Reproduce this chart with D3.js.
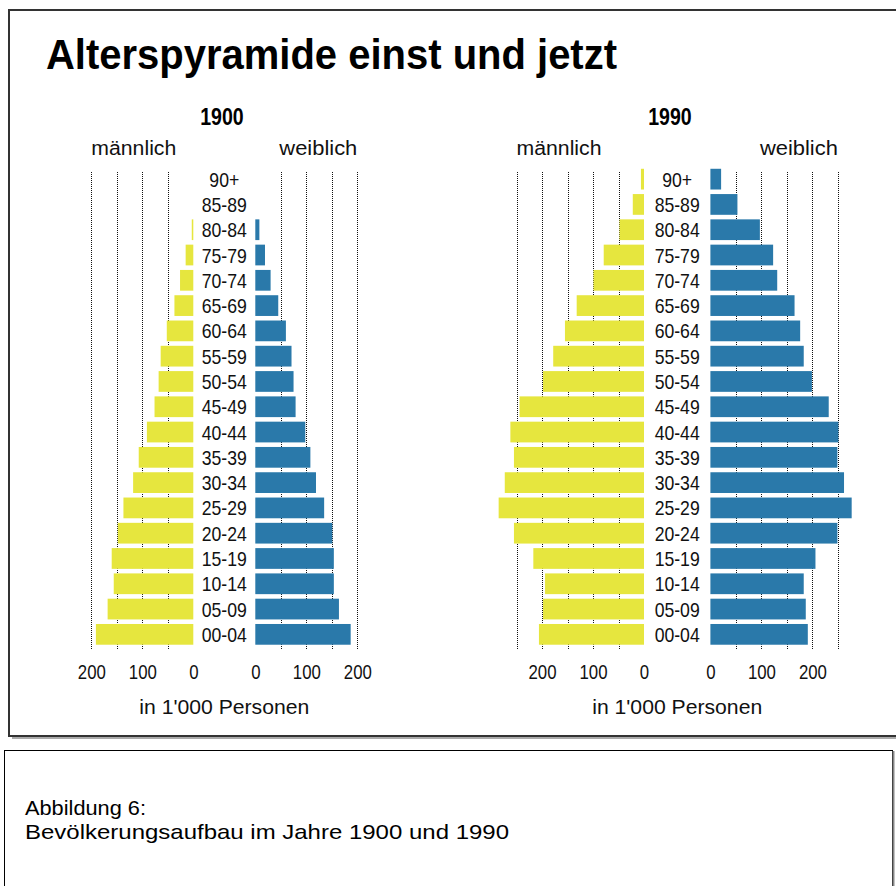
<!DOCTYPE html>
<html lang="de">
<head>
  <meta charset="UTF-8">
  <title>Alterspyramide einst und jetzt</title>
  <script src="https://d3js.org/d3.v7.min.js"></script>
  <style>
    body { margin: 0; background: white; }
    svg { display: block; }
    .word { font-family: "Liberation Sans", Arial, sans-serif; font-size: 20px; fill: #111; }
    .num { font-family: "Liberation Sans", Arial, sans-serif; font-size: 21px; fill: #111; }
    .grid { stroke: #111; stroke-width: 1px; stroke-dasharray: 1,1; }
  </style>
</head>
<body>
<svg id="chart"></svg>
<script>
// age groups, top to bottom
const ages = ["90+","85-89","80-84","75-79","70-74","65-69","60-64","55-59","50-54",
              "45-49","40-44","35-39","30-34","25-29","20-24","15-19","10-14","05-09","00-04"];

// values in 1'000 persons
const male1900   = [0,0,3,15,26,37,52,64,68,76,91,107,118,137,148,160,156,168,191];
const female1900 = [0,0,8,19,30,45,60,71,75,79,98,108,119,135,151,154,154,164,187];
const male1990   = [6,22,48,79,99,132,155,178,198,244,262,255,273,285,255,217,194,198,206];
const female1990 = [21,53,97,123,131,165,176,183,199,232,251,249,262,277,249,206,183,187,191];

const ticks1900 = [0,100,200];
const grid1900 = [50,100,150,200];
const ticks1990 = [0,100,200];
const grid1990 = [50,100,150,200,250];

const W = 896, H = 886;
const svg = d3.select("#chart").attr("width", W).attr("height", H);

// squeeze text horizontally (the original uses a condensed face)
function condense(sel, f) {
  sel.each(function() {
    const w = this.getComputedTextLength();
    d3.select(this).attr("textLength", w * f).attr("lengthAdjust", "spacingAndGlyphs");
  });
}

// outer frame with shadow
svg.append("rect").attr("x", 12).attr("y", 13).attr("width", 900).attr("height", 726).attr("fill", "#aaa");
svg.append("rect").attr("x", 9).attr("y", 10).attr("width", 900).attr("height", 726)
  .attr("fill", "white").attr("stroke", "#333").attr("stroke-width", 2);

// title
svg.append("text")
  .attr("x", 46).attr("y", 69)
  .attr("textLength", 571).attr("lengthAdjust", "spacingAndGlyphs")
  .style("font-family", "'Liberation Sans', sans-serif")
  .style("font-weight", "bold").style("font-size", "43px").attr("fill", "#000")
  .text("Alterspyramide einst und jetzt");

// shared vertical band scale
const y = d3.scaleBand().domain(ages).range([166.5, 647]).paddingInner(0.18).paddingOuter(0.09);

function pyramid(year, cx, gap, maxV, yearX, males, females, tickVals, gridVals) {
  const k = 0.51; // px per 1'000
  const xm = d3.scaleLinear().domain([0, maxV]).range([cx - gap, cx - gap - maxV * k]);
  const xf = d3.scaleLinear().domain([0, maxV]).range([cx + gap, cx + gap + maxV * k]);
  const g = svg.append("g");

  // dotted gridlines behind bars
  g.selectAll(".gm").data(gridVals).join("line")
    .attr("class", "grid")
    .attr("x1", d => Math.round(xm(d)) + 0.5).attr("x2", d => Math.round(xm(d)) + 0.5)
    .attr("y1", 172).attr("y2", 650);
  g.selectAll(".gf").data(gridVals).join("line")
    .attr("class", "grid")
    .attr("x1", d => Math.round(xf(d)) + 0.5).attr("x2", d => Math.round(xf(d)) + 0.5)
    .attr("y1", 172).attr("y2", 650);

  // bars
  g.selectAll(".bm").data(males).join("rect")
    .attr("x", d => xm(d)).attr("width", d => xm(0) - xm(d))
    .attr("y", (d, i) => y(ages[i])).attr("height", y.bandwidth())
    .attr("fill", "#e6e63e");
  g.selectAll(".bf").data(females).join("rect")
    .attr("x", xf(0)).attr("width", d => xf(d) - xf(0))
    .attr("y", (d, i) => y(ages[i])).attr("height", y.bandwidth())
    .attr("fill", "#2a79aa");

  // age labels in the middle
  const ageText = g.selectAll(".age").data(ages).join("text")
    .attr("class", "num")
    .attr("x", cx).attr("y", d => y(d) + y.bandwidth() / 2)
    .attr("dy", "0.36em").attr("text-anchor", "middle")
    .text(d => d);
  condense(ageText, 0.84);

  // headers
  const yr = g.append("text").attr("x", yearX).attr("y", 125).attr("text-anchor", "middle")
    .style("font-family", "'Liberation Sans', sans-serif").style("font-weight", "bold")
    .style("font-size", "23px").text(year);
  condense(yr, 0.85);
  g.append("text").attr("class", "word").attr("x", xm(maxV)).attr("y", 155)
    .attr("textLength", 85).attr("lengthAdjust", "spacingAndGlyphs").text("männlich");
  g.append("text").attr("class", "word").attr("x", xf(maxV)).attr("y", 155)
    .attr("text-anchor", "end").attr("textLength", 78).attr("lengthAdjust", "spacingAndGlyphs")
    .text("weiblich");

  // x axes
  const axM = g.append("g").attr("transform", "translate(0,664)")
    .call(d3.axisBottom(xm).tickValues(tickVals).tickSize(0).tickPadding(0));
  const axF = g.append("g").attr("transform", "translate(0,664)")
    .call(d3.axisBottom(xf).tickValues(tickVals).tickSize(0).tickPadding(0));
  [axM, axF].forEach(a => {
    a.select(".domain").remove();
    const t = a.selectAll("text").attr("class", "num").attr("fill", null)
      .style("font-family", "'Liberation Sans', sans-serif").style("font-size", "21px");
    condense(t, 0.8);
  });

  g.append("text").attr("class", "word").attr("x", cx).attr("y", 714)
    .attr("text-anchor", "middle").attr("textLength", 170).attr("lengthAdjust", "spacingAndGlyphs")
    .text("in 1'000 Personen");
}

pyramid("1900", 224.3, 31, 200, 222, male1900, female1900, ticks1900, grid1900);
pyramid("1990", 677.2, 33.2, 250, 670, male1990, female1990, ticks1990, grid1990);

// caption box
svg.append("rect").attr("x", 4.5).attr("y", 750.5).attr("width", 888).attr("height", 200)
  .attr("fill", "white").attr("stroke", "#000").attr("stroke-width", 1);
svg.append("line").attr("x1", 893.5).attr("x2", 893.5).attr("y1", 751).attr("y2", 886)
  .attr("stroke", "#888").attr("stroke-width", 2);

const caption = ["Abbildung 6:", "Bevölkerungsaufbau im Jahre 1900 und 1990"];
const capLen = [121, 484];
svg.selectAll(".cap").data(caption).join("text")
  .attr("x", 25).attr("y", (d, i) => 815 + i * 24)
  .attr("textLength", (d, i) => capLen[i]).attr("lengthAdjust", "spacingAndGlyphs")
  .style("font-family", "'Liberation Sans', Arial, sans-serif").style("font-size", "21px")
  .attr("fill", "#000")
  .text(d => d);
</script>
</body>
</html>
